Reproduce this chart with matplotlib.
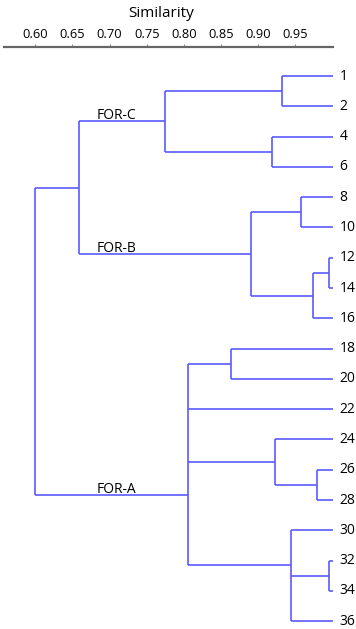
import matplotlib.pyplot as plt

plt.rcParams['font.family'] = ['Open Sans', 'DejaVu Sans']

# leaves, top to bottom
leaves = ['1', '2', '4', '6', '8', '10', '12', '14', '16', '18',
          '20', '22', '24', '26', '28', '30', '32', '34', '36']

# internal nodes: name, children, similarity level
node_names = ['n1_2', 'n4_6', 'FOR-C', 'n8_10', 'n12_14', 'n12_16', 'FOR-B', 'nCB',
              'n18_20', 'n26_28', 'n24_28', 'n32_34', 'n30_36', 'FOR-A', 'root']
node_children = [['1', '2'], ['4', '6'], ['n1_2', 'n4_6'],
                 ['8', '10'], ['12', '14'], ['n12_14', '16'], ['n8_10', 'n12_16'],
                 ['FOR-C', 'FOR-B'],
                 ['18', '20'], ['26', '28'], ['24', 'n26_28'], ['32', '34'],
                 ['30', 'n32_34', '36'], ['n18_20', '22', 'n24_28', 'n30_36'],
                 ['nCB', 'FOR-A']]
node_sim = [0.932, 0.919, 0.774, 0.958, 0.995, 0.973, 0.890, 0.659,
            0.863, 0.979, 0.923, 0.995, 0.944, 0.806, 0.600]
# stems that are not drawn at the middle of their children (in leaf units)
stem_override = {'FOR-A': 13.84, 'n30_36': 16.15}

group_labels = ['FOR-C', 'FOR-B', 'FOR-A']
ticks = [0.60, 0.65, 0.70, 0.75, 0.80, 0.85, 0.90, 0.95]

line_col = '#5a5aff'

fig = plt.figure(figsize=(3.56, 6.29), dpi=100)
ax = fig.add_axes([4 / 356, 0, 329 / 356, 1 - 46.7 / 629])

pos_y = {name: i for i, name in enumerate(leaves)}
pos_x = {name: 1.0 for name in leaves}
for name, kids, s in zip(node_names, node_children, node_sim):
    ys = [pos_y[k] for k in kids]
    pos_y[name] = stem_override.get(name, (ys[0] + ys[-1]) / 2)
    pos_x[name] = s
    # vertical connector
    ax.plot([s, s], [min(ys), max(ys)], color=line_col, lw=1.2, solid_capstyle='butt')
    # horizontal branches to children
    for k in kids:
        ax.plot([s, pos_x[k]], [pos_y[k], pos_y[k]], color=line_col, lw=1.2,
                solid_capstyle='butt')

for name in leaves:
    ax.annotate(name, (1.0, pos_y[name]), xytext=(5, 0), textcoords='offset points',
                va='center', ha='left', fontsize=10, annotation_clip=False)

for g in group_labels:
    ax.annotate(g, (0.683, pos_y[g]), xytext=(0, 1.5), textcoords='offset points',
                va='baseline', ha='left', fontsize=10)

ax.set_xlim(0.558, 1.0005)
ax.set_ylim(18.26, -0.97)
ax.xaxis.tick_top()
ax.set_xticks(ticks)
ax.set_xticklabels([f'{t:.2f}' for t in ticks])
ax.tick_params(axis='x', direction='out', length=2.5, width=0.6, color='#777777',
               labelsize=9.3, pad=1.5)
ax.set_yticks([])
for side in ['right', 'bottom', 'left']:
    ax.spines[side].set_visible(False)
ax.spines['top'].set_color('#666666')
ax.spines['top'].set_linewidth(1.6)

fig.text(161 / 356, 1 - 13.5 / 629, 'Similarity', ha='center', va='center', fontsize=11)

fig.savefig('out.png', dpi=100)
